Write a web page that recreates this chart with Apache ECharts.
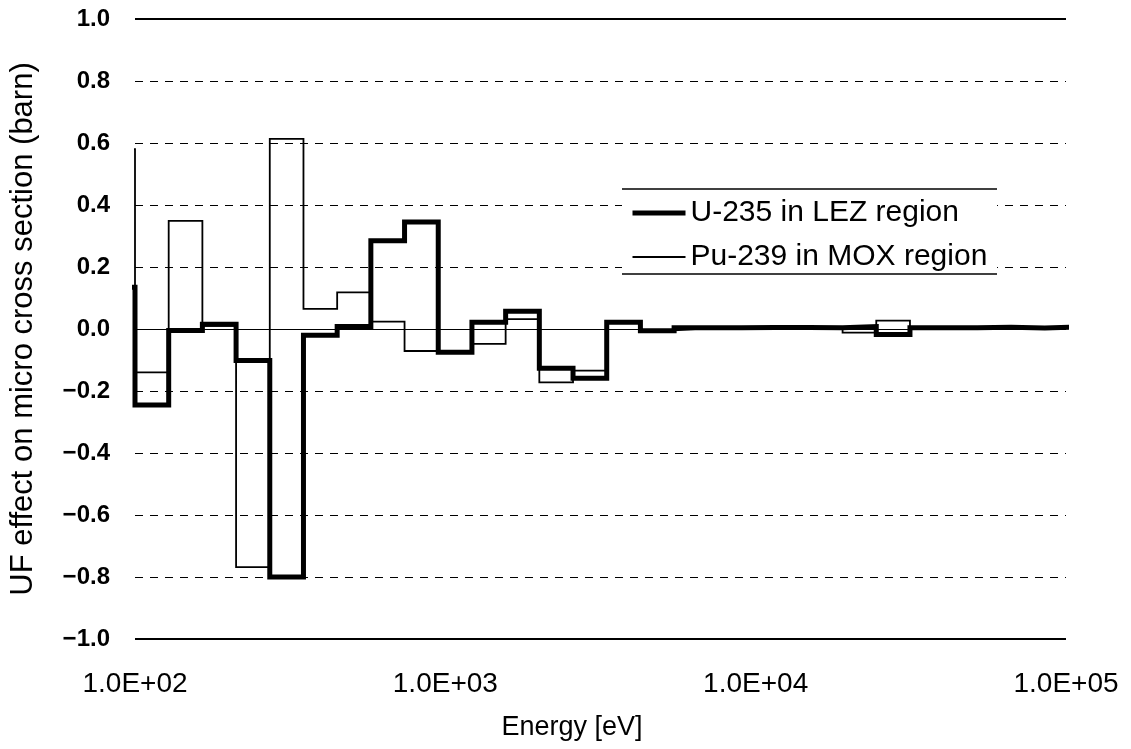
<!DOCTYPE html>
<html>
<head>
<meta charset="utf-8">
<script src="https://cdn.jsdelivr.net/npm/echarts@6/dist/echarts.min.js"></script>
<style>
  html, body { margin: 0; padding: 0; background: #fff; }
  #chart { width: 1131px; height: 749px; }
</style>
</head>
<body>
<div id="chart"></div>
<script>
// Energy group boundaries (eV), lethargy width 0.25; the first group lies below the plotted range
const binEdges = [77.88, 100, 128.4, 164.87, 211.7, 271.83, 349.03, 448.17, 575.46, 738.91,
  948.77, 1218.2, 1564.3, 2008.6, 2579.0, 3311.5, 4252.1, 5459.8, 7010.5, 9001.7,
  11558, 14841, 19057, 24469, 31419, 40343, 51801, 66514, 85406, 109663];

// UF effect per energy group (barn)
const u235Lez = [0.135, -0.245, -0.005, 0.015, -0.102, -0.800, -0.020, 0.008, 0.285, 0.345,
  -0.075, 0.022, 0.057, -0.127, -0.159, 0.022, -0.006, 0.004, 0.004, 0.005,
  0.005, 0.004, 0.008, -0.018, 0.004, 0.004, 0.006, 0.003, 0.007];
const pu239Mox = [0.580, -0.140, 0.349, 0.010, -0.768, 0.613, 0.065, 0.118, 0.024, -0.071,
  -0.072, -0.048, 0.032, -0.172, -0.134, 0.020, -0.004, 0.002, 0.002, 0.002,
  0.002, 0.002, -0.012, 0.027, 0.002, 0.002, 0.002, 0.002, 0.003];

const seriesNames = ['U-235 in LEZ region', 'Pu-239 in MOX region'];
const xTickValues = [100, 1000, 10000, 100000];
const xTitle = 'Energy [eV]';
const yTitle = 'UF effect on micro cross section (barn)';

const THICK = 5;
const THIN = 1.8;

// Turn group values into step points: one point at each lower edge plus the last upper edge
function stepPoints(values) {
  const pts = values.map((v, i) => [binEdges[i], v]);
  pts.push([binEdges[values.length], values[values.length - 1]]);
  return pts;
}

const FONT = '"Liberation Sans", Arial, sans-serif';

const chart = echarts.init(document.getElementById('chart'), null, { renderer: 'canvas' });

chart.setOption({
  animation: false,
  backgroundColor: '#fff',
  grid: { left: 133, right: 65, top: 19, bottom: 110, containLabel: false },
  title: {
    text: xTitle,
    left: 567,
    top: 709,
    textAlign: 'center',
    textStyle: { fontFamily: FONT, fontSize: 27, fontWeight: 'normal', color: '#000' }
  },
  xAxis: {
    type: 'log',
    logBase: 10,
    min: 100,
    max: 100000,
    axisLine: { show: false },
    axisTick: { show: false },
    splitLine: { show: false },
    axisLabel: {
      margin: 31,
      fontFamily: FONT,
      fontSize: 28,
      color: '#000',
      formatter: (v) => {
        if (!xTickValues.some((t) => Math.abs(t - v) / t < 1e-6)) return '';
        const e = Math.round(Math.log10(v));
        return '1.0E+' + (e < 10 ? '0' + e : e);
      }
    }
  },
  yAxis: {
    type: 'value',
    min: -1,
    max: 1,
    interval: 0.2,
    name: yTitle,
    nameLocation: 'middle',
    nameRotate: 90,
    nameGap: 96,
    nameTextStyle: { fontFamily: FONT, fontSize: 31, color: '#000' },
    axisLine: { show: false },
    axisTick: { show: false },
    axisLabel: {
      margin: 25,
      fontFamily: FONT,
      fontSize: 24,
      fontWeight: 'bold',
      color: '#000',
      formatter: (v) => (v < -1e-9 ? '\u2212' + Math.abs(v).toFixed(1) : Math.abs(v).toFixed(1))
    },
    splitLine: { show: true, lineStyle: { color: '#000', width: 1.2, type: [8, 7] } }
  },
  legend: {
    data: [
      { name: seriesNames[0], itemStyle: { opacity: 0 }, lineStyle: { width: THICK, color: '#000' } },
      { name: seriesNames[1], itemStyle: { opacity: 0 }, lineStyle: { width: THIN, color: '#000' } }
    ],
    orient: 'vertical',
    left: 622,
    top: 189,
    z: 10,
    padding: [9, 9, 2, 8],
    itemWidth: 53,
    itemHeight: 14,
    itemGap: 14,
    backgroundColor: 'rgba(0,0,0,0)',
    textStyle: { fontFamily: FONT, fontSize: 30, lineHeight: 30, color: '#000' }
  },
  graphic: [
    {
      type: 'rect', z: 5, silent: true,
      shape: { x: 622, y: 189, width: 375, height: 85 },
      style: { fill: '#fff' }
    },
    {
      type: 'line', z: 6, silent: true,
      shape: { x1: 622, y1: 189, x2: 997, y2: 189 },
      style: { stroke: '#000', lineWidth: 1.5 }
    },
    {
      type: 'line', z: 6, silent: true,
      shape: { x1: 622, y1: 274, x2: 997, y2: 274 },
      style: { stroke: '#000', lineWidth: 1.5 }
    }
  ],
  series: [
    {
      name: seriesNames[1],
      type: 'line',
      step: 'end',
      z: 2,
      symbol: 'none',
      clip: true,
      data: stepPoints(pu239Mox),
      lineStyle: { color: '#000', width: THIN, join: 'miter' },
      itemStyle: { color: '#000' },
      markLine: {
        silent: true,
        symbol: 'none',
        label: { show: false },
        data: [
          { yAxis: 0, lineStyle: { color: '#000', width: 1.2, type: 'solid' } },
          { yAxis: 1, lineStyle: { color: '#000', width: 2, type: 'solid' } },
          { yAxis: -1, lineStyle: { color: '#000', width: 2, type: 'solid' } }
        ]
      }
    },
    {
      name: seriesNames[0],
      type: 'line',
      step: 'end',
      z: 3,
      symbol: 'none',
      clip: true,
      data: stepPoints(u235Lez),
      lineStyle: { color: '#000', width: THICK, join: 'miter' },
      itemStyle: { color: '#000' }
    }
  ]
});
</script>
</body>
</html>
